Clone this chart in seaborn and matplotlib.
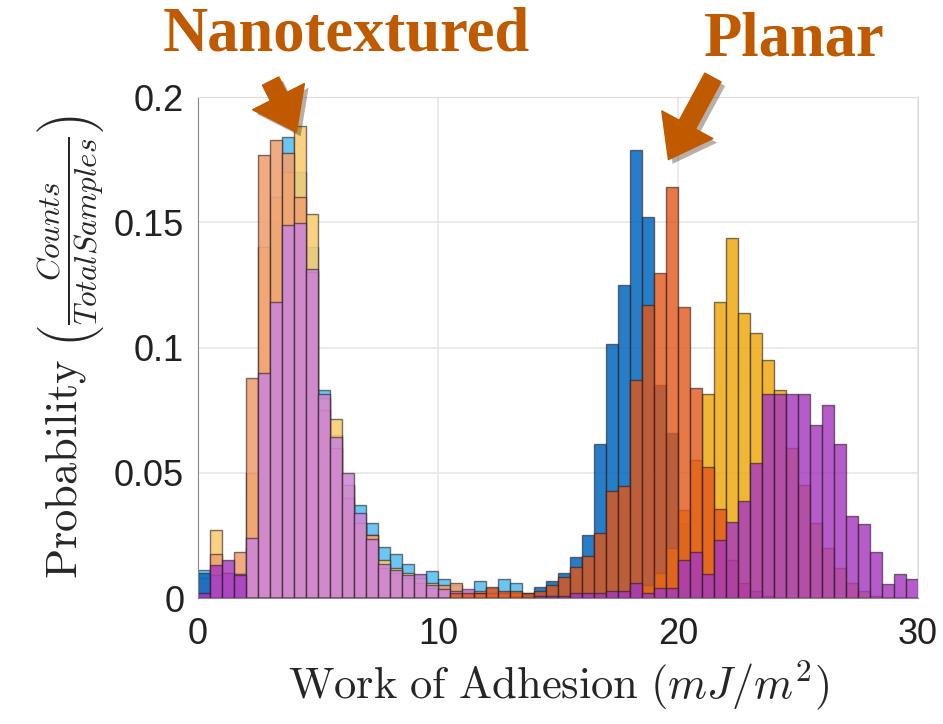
import numpy as np
import pandas as pd
import matplotlib
matplotlib.use("Agg")
import matplotlib.pyplot as plt
import matplotlib.patheffects as pe
import seaborn as sns

# bins: 0 to 30 in steps of 0.5 (60 bins)
bin_centers = np.arange(0.25, 30, 0.5)

# Nanotextured samples (probability per bin)
nano_blue = [0.0113, 0.010, 0.008, 0.008, 0.020, 0.080, 0.150, 0.184, 0.170, 0.140,
             0.0832, 0.065, 0.045, 0.0373, 0.030, 0.0205, 0.0176, 0.0136, 0.009, 0.0106,
             0.0076, 0.005, 0.003, 0.0069, 0.004, 0.0076, 0.0058, 0.001, 0.002, 0.001,
             0, 0, 0, 0, 0, 0, 0, 0, 0, 0,
             0, 0, 0, 0, 0, 0, 0, 0, 0, 0,
             0, 0, 0, 0, 0, 0, 0, 0, 0, 0]
nano_yellow = [0.005, 0.0272, 0.005, 0.010, 0.050, 0.140, 0.160, 0.170, 0.1885, 0.1533,
               0.080, 0.0713, 0.045, 0.030, 0.025, 0.015, 0.012, 0.010, 0.008, 0.006,
               0.004, 0.003, 0.002, 0.002, 0.001, 0.001, 0.001, 0, 0, 0,
               0, 0, 0, 0, 0, 0, 0, 0, 0, 0,
               0, 0, 0, 0, 0, 0, 0, 0, 0, 0,
               0, 0, 0, 0, 0, 0, 0, 0, 0, 0]
nano_orange = [0.006, 0.0176, 0.010, 0.0184, 0.088, 0.177, 0.183, 0.1776, 0.160, 0.130,
               0.075, 0.060, 0.040, 0.030, 0.025, 0.012, 0.010, 0.008, 0.006, 0.004,
               0.005, 0.0058, 0.003, 0.003, 0.002, 0.002, 0.002, 0.001, 0, 0,
               0, 0, 0, 0, 0, 0, 0, 0, 0, 0,
               0, 0, 0, 0, 0, 0, 0, 0, 0, 0,
               0, 0, 0, 0, 0, 0, 0, 0, 0, 0]
nano_purple = [0.008, 0.009, 0.010, 0.0096, 0.0238, 0.0898, 0.118, 0.149, 0.1498, 0.1313,
               0.0813, 0.0642, 0.0498, 0.0338, 0.0236, 0.0136, 0.011, 0.009, 0.0096, 0.005,
               0.0036, 0.003, 0.0036, 0.002, 0.002, 0.002, 0.001, 0.0016, 0.001, 0.001,
               0, 0, 0, 0, 0, 0, 0, 0, 0, 0,
               0, 0, 0, 0, 0, 0, 0, 0, 0, 0,
               0, 0, 0, 0, 0, 0, 0, 0, 0, 0]

# Planar samples
planar_blue = [0.010, 0, 0, 0, 0, 0, 0, 0, 0, 0,
               0, 0, 0, 0, 0, 0, 0, 0, 0, 0,
               0, 0, 0, 0, 0, 0, 0, 0.002, 0.0045, 0.0069,
               0.010, 0.0165, 0.0252, 0.0616, 0.1016, 0.1249, 0.1789, 0.1522, 0.085, 0.066,
               0.030, 0.018, 0.008, 0.004, 0.002, 0, 0, 0, 0, 0,
               0, 0, 0, 0, 0, 0, 0, 0, 0, 0]
planar_yellow = [0, 0, 0, 0, 0, 0, 0, 0, 0, 0,
                 0, 0, 0, 0, 0, 0, 0, 0, 0, 0,
                 0, 0, 0, 0, 0, 0, 0, 0, 0, 0,
                 0, 0, 0, 0, 0, 0, 0, 0.005, 0.010, 0.020,
                 0.035, 0.055, 0.0816, 0.1182, 0.1436, 0.1138, 0.1056, 0.0949, 0.0832, 0.060,
                 0.045, 0.030, 0.020, 0.012, 0.006, 0.003, 0.001, 0, 0, 0]
planar_orange = [0, 0, 0, 0, 0, 0, 0, 0, 0, 0,
                 0, 0, 0, 0, 0, 0, 0, 0, 0, 0,
                 0, 0.002, 0.002, 0.002, 0.0045, 0.003, 0.003, 0.002, 0.003, 0.005,
                 0.0085, 0.0122, 0.0169, 0.0258, 0.0429, 0.0449, 0.0869, 0.1169, 0.1298, 0.1642,
                 0.116, 0.0838, 0.0525, 0.0356, 0.015, 0.006, 0.003, 0.001, 0, 0,
                 0, 0, 0, 0, 0, 0, 0, 0, 0, 0]
planar_purple = [0.002, 0.013, 0.0152, 0.009, 0, 0, 0, 0, 0, 0,
                 0, 0, 0, 0, 0, 0, 0, 0, 0, 0,
                 0, 0, 0, 0, 0, 0, 0, 0, 0.001, 0.001,
                 0.001, 0.002, 0.002, 0.002, 0.003, 0.003, 0.006, 0.002, 0.004, 0.004,
                 0.015, 0.0182, 0.0096, 0.0232, 0.0302, 0.0386, 0.0538, 0.0816, 0.0813, 0.0813,
                 0.0813, 0.0689, 0.0769, 0.0616, 0.0329, 0.0296, 0.0182, 0.0056, 0.0096, 0.0076]

# draw order follows the figure: nanotextured first, planar on top
series = [
    (nano_blue, "#5BC0F2", 0.9),
    (nano_yellow, "#F8CC74", 0.9),
    (nano_orange, "#F0A274", 0.9),
    (nano_purple, "#CC86D8", 0.88),
    (planar_blue, "#0A6CBE", 0.88),
    (planar_yellow, "#EEAC18", 0.88),
    (planar_orange, "#E2561A", 0.8),
    (planar_purple, "#A638BF", 0.82),
]

sns.set_style("whitegrid")
plt.rcParams['font.family'] = ['Liberation Sans', 'DejaVu Sans']
plt.rcParams['mathtext.fontset'] = 'cm'

fig = plt.figure(figsize=(9.43, 7.24), dpi=100)
ax = fig.add_axes([0.210, 0.174, 0.7635, 0.692])

for values, color, alpha in series:
    df = pd.DataFrame({"x": bin_centers, "w": values})
    sns.histplot(data=df, x="x", weights="w", binwidth=0.5, binrange=(0, 30),
                 color=color, alpha=alpha, edgecolor=(0.15, 0.1, 0.1, 0.6),
                 linewidth=1.0, ax=ax)

ax.set_xlim(0, 30)
ax.set_ylim(0, 0.2)
ax.set_xticks([0, 10, 20, 30])
ax.set_yticks([0, 0.05, 0.1, 0.15, 0.2])
ax.set_yticklabels(["0", "0.05", "0.1", "0.15", "0.2"])
ax.tick_params(axis='both', labelsize=26, colors='#222222', direction='in', length=4)
ax.tick_params(axis='x', pad=14)
ax.tick_params(axis='y', pad=10)
ax.grid(True, color='#E6E6E6', linewidth=1.2)
ax.set_axisbelow(True)
for side in ['top', 'right']:
    ax.spines[side].set_color('#DDDDDD')
for side in ['left', 'bottom']:
    ax.spines[side].set_color('#888888')

ax.set_xlabel(r'$\mathrm{Work\ of\ Adhesion}\ (mJ/m^2)$', fontsize=32, labelpad=4)
ax.set_ylabel(r'$\mathrm{Probability}\ \left(\frac{Counts}{TotalSamples}\right)$',
              fontsize=32, labelpad=6)

# annotations
ann_color = '#C05A00'
fig.text(0.367, 0.93, 'Nanotextured', fontsize=45, fontweight='bold',
         family='Liberation Serif', color=ann_color, ha='center', va='baseline')
fig.text(0.842, 0.924, 'Planar', fontsize=45, fontweight='bold',
         family='Liberation Serif', color=ann_color, ha='center', va='baseline')

arrow_style = dict(arrowstyle='simple,head_length=1.3,head_width=1.9,tail_width=0.6',
                   mutation_scale=22, color=ann_color, shrinkA=0, shrinkB=0)
for tip, tail in [((4.1, 0.186), (0.287, 0.888)), ((19.6, 0.175), (0.756, 0.893))]:
    a = ax.annotate('', xy=tip, xycoords='data', xytext=tail,
                    textcoords='figure fraction', arrowprops=arrow_style,
                    annotation_clip=False)
    a.arrow_patch.set_path_effects([pe.SimplePatchShadow(offset=(3, -3), alpha=0.35),
                                    pe.Normal()])

fig.savefig('out.png', dpi=100)
